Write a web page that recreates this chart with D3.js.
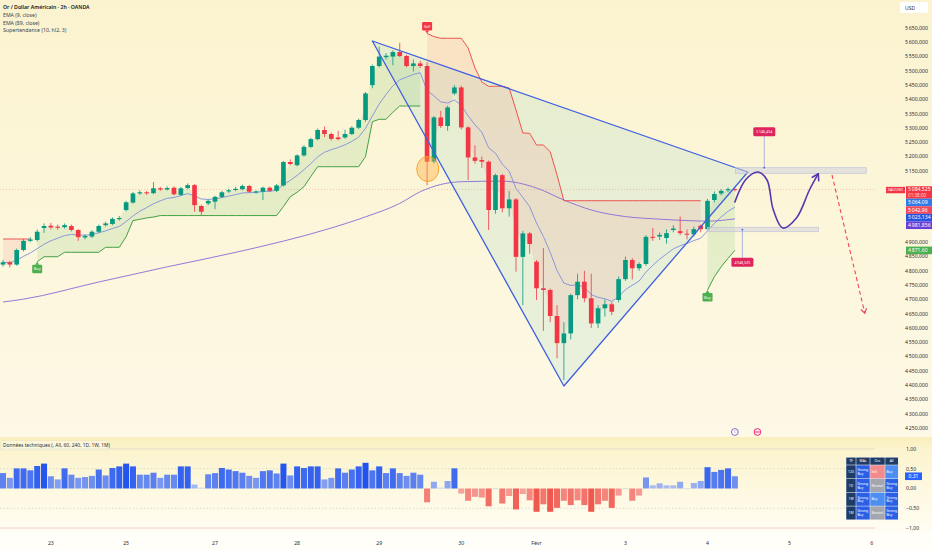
<!DOCTYPE html>
<html>
<head>
<meta charset="utf-8">
<script src="https://cdn.jsdelivr.net/npm/d3@7"></script>
<style>
body{margin:0;background:#fffef8;}
svg{display:block;font-family:"Noto Sans",sans-serif;}
</style>
</head>
<body>
<svg id="chart" width="932" height="550"></svg>
<script>
// ---------------------------------------------- DATA ---------------------------------------------------
var DAY_LABELS = ["23","25","27","28","29","30","Févr","3","4","5","6"];
var DAY_INDEX = [7,18,31,43,55,67,78,91,103,115,127];

var OPEN = [4822,4830,4822,4873,4905,4908,4950,4958,4955,4953,4957,4943,4917,4920,4937,4960,4964,4981,5013,5039,
	5071,5075,5072,5089,5085,5091,5066,5090,5100,5027,5036,5042,5059,5078,5083,5086,5097,5077,5077,5091,
	5080,5099,5181,5170,5204,5234,5261,5293,5279,5267,5267,5279,5301,5328,5450,5517,5548,5550,5566,5552,
	5517,5526,5517,5182,5337,5307,5421,5442,5302,5197,5188,5182,5013,5135,5019,5050,4849,4931,4832,4739,
	4733,4642,4547,4581,4715,4762,4704,4616,4669,4683,4698,4771,4838,4809,4824,4919,4920,4915,4943,4939,
	4930,4928,4958,4946,5048,5071,5082,5086];
var HIGH = [4838,4835,4878,4912,4918,4945,4966,4968,4962,4966,4962,4946,4928,4942,4962,4972,4987,4992,5045,5076,
	5082,5080,5111,5094,5096,5096,5094,5106,5104,5032,5050,5063,5080,5088,5094,5102,5101,5082,5095,5095,
	5104,5185,5190,5208,5240,5266,5298,5305,5284,5290,5294,5306,5333,5426,5522,5585,5562,5572,5598,5556,
	5540,5535,5530,5342,5360,5378,5450,5448,5306,5240,5200,5186,5140,5140,5080,5055,4940,4936,4838,4880,
	4738,4680,4620,4720,4790,4800,4790,4680,4700,4690,4780,4850,4845,4830,4925,4950,4935,4945,4960,4990,
	4945,4955,4962,5052,5078,5086,5092,5092];
var LOW = [4815,4812,4818,4868,4900,4903,4933,4945,4944,4948,4938,4905,4910,4915,4932,4955,4960,4976,5008,5035,
	5066,5066,5068,5080,5081,5064,5062,5086,5007,4994,5030,5016,5055,5073,5079,5082,5073,5070,5048,5076,
	5076,5095,5170,5166,5200,5230,5257,5268,5256,5257,5262,5275,5296,5322,5439,5512,5540,5520,5548,5512,
	5498,5510,5100,5175,5300,5290,5415,5295,5118,5175,5160,4943,5000,5005,4990,4797,4680,4860,4698,4590,
	4620,4494,4418,4560,4700,4690,4600,4600,4640,4645,4690,4765,4770,4800,4818,4905,4908,4895,4935,4925,
	4910,4920,4935,4940,5040,5065,5075,5078];
var CLOSE = [4830,4822,4873,4905,4910,4937,4957,4952,4951,4960,4943,4918,4922,4937,4957,4966,4982,4985,5040,5071,
	5075,5072,5089,5085,5090,5068,5089,5100,5030,5007,5045,5059,5075,5082,5087,5097,5077,5078,5091,5080,
	5099,5181,5174,5204,5234,5261,5293,5279,5262,5261,5279,5301,5328,5421,5517,5550,5553,5566,5552,5517,
	5526,5517,5182,5337,5307,5372,5442,5302,5197,5185,5182,5013,5135,5019,5050,4849,4931,4894,4739,4733,
	4642,4547,4581,4715,4762,4704,4616,4669,4683,4657,4771,4838,4809,4824,4919,4917,4926,4932,4948,4932,
	4928,4946,4946,5045,5069,5080,5086,5084.525];

// EMA 89 at a few candles [index, value]
var EMA89_POINTS = [[0,4691],[3,4701],[14,4761],[24,4814],[35,4870],[47,4943],[53,4989],[58,5036],[61,5077],
	[67,5112],[73,5114],[78,5090],[82,5048],[86,5013],[91,4990],[96,4981],[100,4976],[103,4974],[107,4982]];

// supertrend (10, hl2, 3): green = up line, red = down line
var ST_UP = [null,null,null,null,null,4832,4849.5,4849.5,4849.5,4865,4865,4865,4865,4865,4865,4882.5,4882.5,4882.5,4919.5,4976,
	4980.5,4985,4988.5,4993.5,4993.5,4993.5,4993.5,4993.5,4993.5,4993.5,4993.5,4993.5,4993.5,4993.5,4993.5,4993.5,4993.5,4993.5,4993.5,4993.5,
	4993.5,5025,5059.5,5075,5094.5,5130,5164.5,5164.5,5164.5,5164.5,5164.5,5164.5,5164.5,5200,5322,5330.5,5330.5,5355,5377,5377,
	5377,5377,null,null,null,null,null,null,null,null,null,null,null,null,null,null,null,null,null,null,
	null,null,null,null,null,null,null,null,null,null,null,null,null,null,null,null,null,null,null,null,
	null,null,null,4733,4779.5,4814.5,4844,4871.6];
var ST_DOWN = [4911.5,4911.5,4911.5,4911.5,4911.5,null,null,null,null,null,null,null,null,null,null,null,null,null,null,null,
	null,null,null,null,null,null,null,null,null,null,null,null,null,null,null,null,null,null,null,null,
	null,null,null,null,null,null,null,null,null,null,null,null,null,null,null,null,null,null,null,null,
	null,null,5631,5620,5614,5614,5614,5614,5580,5510,5461,5446,5446,5446,5440,5363,5282.5,5281.5,5240.5,5240.5,
	5217,5135.5,5045.5,5045.5,5045.5,5045.5,5045.5,5045.5,5045.5,5045.5,5045.5,5045.5,5045.5,5045.5,5045.5,5045.5,5045.5,5045.5,5045.5,5045.5,
	5045.5,5045.5,5045.5,null,null,null,null,null];
var BUY_SIGNALS = [5,103];
var SELL_SIGNALS = [62];

// technical ratings histogram
var RATINGS = [0.39,0.27,0.51,0.51,0.46,0.57,0.63,0.31,0.23,0.51,
	0.35,0.27,0.29,0.32,0.48,0.33,0.52,0.56,0.63,0.56,
	0.35,0.35,0.40,0.27,0.35,0.35,0.56,0.56,0.10,0.02,
	0.36,0.39,0.52,0.48,0.44,0.40,0.32,0.27,0.44,0.46,
	0.38,0.63,0.33,0.56,0.52,0.56,0.56,0.23,0.27,0.51,
	0.40,0.48,0.56,0.65,0.46,0.56,0.39,0.51,0.39,0.32,
	0.40,0.35,-0.35,0.17,0.02,0.19,0.51,-0.13,-0.31,-0.21,
	-0.23,-0.45,0,-0.38,-0.19,-0.53,-0.14,-0.30,-0.59,-0.40,
	-0.59,-0.49,-0.31,-0.42,-0.30,-0.42,-0.59,-0.40,-0.31,-0.49,
	-0.18,0,-0.31,-0.18,0.28,0.08,0.13,0.08,0.08,0.17,
	0,0.14,0.19,0.54,0.42,0.47,0.51,0.31];
var RATING_TICKS = [1,0.5,0,-0.5,-1];

var TABLE_HEAD = ["TF","MAs","Osc","All"];
var TABLE_ROWS = ["120","1D","1W","1M"];
var TABLE_VALUES = [["Strong Buy","Sell","Buy"],["Strong Buy","Neutral","Strong Buy"],["Strong Buy","Buy","Strong Buy"],["Strong Buy","Neutral","Strong Buy"]];

// price scale
var PRICE_TICKS = d3.range(4250,5651,50);
var AXIS_TAGS = [5084.525,5064.09,5042.96,5023.134,4981.856,4871.60];
var AXIS_TAG_DECIMALS = [3,2,2,3,3,2];
var COUNTDOWN = "01:38:00";

// drawings, in [candle index, price]
var TRIANGLE = [[54.0,5604.5],[82.0,4397],[108.9,5146]];
var ZONE_HIGH = [[107.1,5161],[126.2,5141.5]];
var ZONE_LOW = [[103.0,4952.5],[119.2,4937]];
var PRICE_NOTES = [[111.3,5146.454,5161],[108.1,4946.025,4944.5]];
var WAVE_PATH = [[107.0,5041],[108.6,5120],[110.4,5146],[111.7,5118],[112.6,5015],[114.0,4950],[116.0,4985],[117.9,5083],[119.2,5140]];
var DROP_PATH = [[121.2,5135.5],[126.0,4651.5]];
var CIRCLE_MARK = [62.1,5156.5];
var EVENT_IDX = [107,110.3];

// ---------------------------------------------- SETUP ---------------------------------------------------
var svg = d3.select("#chart");
var PLOT_RIGHT = 875;
var MAIN_BOTTOM = 437;

var x = d3.scaleLinear().domain([0,100]).range([3,687]);
var STEP = x(1)-x(0);
var y = d3.scaleLinear().domain([4250,5650]).range([428,28]);
var yR = d3.scaleLinear().domain([-1,1]).range([528,449]);

var fr = d3.formatLocale({decimal:",",thousands:"\u202f",grouping:[3],currency:["",""]});
function _fmt(v,dec){return fr.format(",."+dec+"f")(v);}

var COLOR_UP = "#089981";
var COLOR_DOWN = "#f23645";
var AXIS_TEXT = "#2a2e39";

var defs = svg.append("defs");
_gradient(defs,"bgMain",[["0%","#fbf3cf"],["55%","#fcf6db"],["100%","#fdf9e6"]]);
_gradient(defs,"bgPane",[["0%","#f9eebb"],["14%","#fcf4cf"],["100%","#fffdf3"]]);
defs.append("clipPath").attr("id","plotClip")
	.append("rect").attr("x",0).attr("y",0).attr("width",PLOT_RIGHT).attr("height",MAIN_BOTTOM);

function _gradient(d,id,stops){
	var g = d.append("linearGradient").attr("id",id).attr("x1",0).attr("y1",0).attr("x2",0).attr("y2",1);
	stops.forEach(function(s){g.append("stop").attr("offset",s[0]).attr("stop-color",s[1]);});
}

// backgrounds
svg.append("rect").attr("x",0).attr("y",0).attr("width",932).attr("height",MAIN_BOTTOM).style("fill","url(#bgMain)");
svg.append("rect").attr("x",0).attr("y",MAIN_BOTTOM).attr("width",932).attr("height",96).style("fill","url(#bgPane)");
svg.append("rect").attr("x",0).attr("y",533).attr("width",932).attr("height",17).style("fill","#fffef8");

var candles = OPEN.map(function(o,i){
	return {i:i,o:o,h:HIGH[i],l:LOW[i],c:CLOSE[i],up:ST_UP[i],dn:ST_DOWN[i]};
});

var plot = svg.append("g").attr("clip-path","url(#plotClip)");

// ---------------------------------------------- MAIN PANE ---------------------------------------------------
drawMain();
drawDrawings();
drawPriceAxis();
drawRatingsPane();
drawTimeAxis();
drawLegend();

function _ema(values,period){
	var k = 2/(period+1);
	var out = [];
	var prev = values[0];
	values.forEach(function(v,i){
		if (i>0) prev = v*k+prev*(1-k);
		out.push(prev);
	});
	return out;
}

function drawMain(){
	// last price line
	plot.append("line")
		.attr("x1",0).attr("x2",PLOT_RIGHT)
		.attr("y1",y(CLOSE[CLOSE.length-1])).attr("y2",y(CLOSE[CLOSE.length-1]))
		.style("stroke",COLOR_DOWN).style("stroke-opacity",0.35)
		.style("stroke-width",0.8).style("stroke-dasharray","1,2");

	// triangle fill (under everything)
	plot.append("path")
		.attr("d",d3.line().x(function(d){return x(d[0]);}).y(function(d){return y(d[1]);})(TRIANGLE)+"Z")
		.style("fill","rgba(0,170,165,0.08)");

	// supertrend fills between line and body middle
	var _mid = function(d){return y((d.o+d.c)/2);};
	plot.append("path")
		.attr("d",d3.area().defined(function(d){return d.up!=null;})
			.x(function(d){return x(d.i);}).y0(function(d){return y(d.up);}).y1(_mid)(candles))
		.style("fill","rgba(76,175,80,0.13)");
	plot.append("path")
		.attr("d",d3.area().defined(function(d){return d.dn!=null;})
			.x(function(d){return x(d.i);}).y0(function(d){return y(d.dn);}).y1(_mid)(candles))
		.style("fill","rgba(242,54,69,0.09)");

	// EMA lines
	var ema9 = _ema(CLOSE,9);
	plot.append("path")
		.attr("d",d3.line().x(function(d,i){return x(i);}).y(function(d){return y(d);})(ema9))
		.style("fill","none").style("stroke","#7f8fdc").style("stroke-width",0.9);
	plot.append("path")
		.attr("d",d3.line().curve(d3.curveMonotoneX).x(function(d){return x(d[0]);}).y(function(d){return y(d[1]);})(EMA89_POINTS))
		.style("fill","none").style("stroke","#8a6ad6").style("stroke-width",0.9);

	// supertrend lines
	plot.append("path")
		.attr("d",d3.line().defined(function(d){return d.up!=null;}).x(function(d){return x(d.i);}).y(function(d){return y(d.up);})(candles))
		.style("fill","none").style("stroke","#43a047").style("stroke-width",1);
	plot.append("path")
		.attr("d",d3.line().defined(function(d){return d.dn!=null;}).x(function(d){return x(d.i);}).y(function(d){return y(d.dn);})(candles))
		.style("fill","none").style("stroke","#ef5350").style("stroke-width",1);

	// candles
	var _bw = STEP*0.68;
	var g = plot.append("g").attr("id","candles");
	g.selectAll("g").data(candles).enter().append("g")
		.each(function(d){
			var _col = d.c>=d.o ? COLOR_UP : COLOR_DOWN;
			var _sel = d3.select(this);
			_sel.append("line")
				.attr("x1",x(d.i)).attr("x2",x(d.i))
				.attr("y1",y(d.h)).attr("y2",y(d.l))
				.style("stroke",_col).style("stroke-width",0.8);
			var _top = y(Math.max(d.o,d.c));
			var _h = Math.max(1,Math.abs(y(d.o)-y(d.c)));
			_sel.append("rect")
				.attr("x",x(d.i)-_bw/2).attr("y",_top)
				.attr("width",_bw).attr("height",_h)
				.style("fill",_col);
		});

	// buy / sell tags
	BUY_SIGNALS.forEach(function(i){_drawSignal(x(i),y(ST_UP[i]),"Buy","#4caf50",1);});
	SELL_SIGNALS.forEach(function(i){_drawSignal(x(i),y(ST_DOWN[i]),"Sell","#f23645",-1);});
}

function _drawSignal(cx,cy,label,color,dir){
	var _w = 10, _h = 8.5, _gap = 3;
	var _y = dir>0 ? cy+_gap : cy-_gap-_h;
	svg.append("path")
		.attr("d","M"+cx+","+cy+"L"+(cx-2)+","+(dir>0?_y:_y+_h)+"L"+(cx+2)+","+(dir>0?_y:_y+_h)+"Z")
		.style("fill",color);
	svg.append("rect").attr("x",cx-_w/2).attr("y",_y).attr("width",_w).attr("height",_h).attr("rx",1.2)
		.style("fill",color);
	svg.append("text").text(label)
		.attr("x",cx).attr("y",_y+_h/2+1.4)
		.style("font-size","3.9px").style("fill","#fff").style("text-anchor","middle");
}

// ---------------------------------------------- DRAWINGS ---------------------------------------------------
function drawDrawings(){
	var _line = d3.line().x(function(d){return x(d[0]);}).y(function(d){return y(d[1]);});

	// orange circle at the sell candle
	plot.append("ellipse")
		.attr("cx",x(CIRCLE_MARK[0])).attr("cy",y(CIRCLE_MARK[1]))
		.attr("rx",11).attr("ry",12.5)
		.style("fill","rgba(255,176,64,0.42)").style("stroke","#f5a020").style("stroke-width",0.9);

	// triangle
	plot.append("path")
		.attr("d",_line(TRIANGLE)+"Z")
		.style("fill","none").style("stroke","#3f5fe0").style("stroke-width",1.3).style("stroke-linejoin","round");

	// zones
	[ZONE_HIGH,ZONE_LOW].forEach(function(z){
		plot.append("rect")
			.attr("x",x(z[0][0])).attr("y",y(z[0][1]))
			.attr("width",x(z[1][0])-x(z[0][0])).attr("height",y(z[1][1])-y(z[0][1]))
			.style("fill","rgba(205,207,222,0.5)").style("stroke","#c3c4d8").style("stroke-width",0.7);
	});

	// price notes with connector
	PRICE_NOTES.forEach(function(n,k){
		var _x = x(n[0]);
		var _yz = y(n[2]);
		var _yl = k==0 ? y(n[1])-40 : y(n[1])+33;
		plot.append("line").attr("x1",_x).attr("x2",_x).attr("y1",_yz).attr("y2",_yl)
			.style("stroke","#8c9be0").style("stroke-width",0.7);
		plot.append("circle").attr("cx",_x).attr("cy",_yz).attr("r",0.9).style("fill","#4f63d8");
		var _t = _fmt(n[1],3);
		plot.append("rect").attr("x",_x-11).attr("y",_yl-4.5).attr("width",22).attr("height",9).attr("rx",1.5)
			.style("fill","#e0245e");
		plot.append("text").text(_t).attr("x",_x).attr("y",_yl+1.4)
			.style("font-size","3.6px").style("fill","#fff").style("text-anchor","middle");
	});

	// projected wave
	var _wave = d3.line().curve(d3.curveCatmullRom.alpha(0.5)).x(function(d){return x(d[0]);}).y(function(d){return y(d[1]);});
	plot.append("path").attr("d",_wave(WAVE_PATH))
		.style("fill","none").style("stroke","#5a35b0").style("stroke-width",1.6).style("stroke-linecap","round");
	_arrowHead(WAVE_PATH[WAVE_PATH.length-2],WAVE_PATH[WAVE_PATH.length-1],"#5a35b0",1.6,7);

	// dashed drop
	plot.append("path").attr("d",_line(DROP_PATH))
		.style("fill","none").style("stroke","#ef4458").style("stroke-width",1.1).style("stroke-dasharray","4,3");
	_arrowHead(DROP_PATH[0],DROP_PATH[1],"#ef4458",1.1,5);

	// event markers
	svg.append("circle").attr("cx",x(EVENT_IDX[0])).attr("cy",432).attr("r",3.4)
		.style("fill","#fff").style("stroke","#7e57c2").style("stroke-width",0.9);
	svg.append("text").text("€").attr("x",x(EVENT_IDX[0])).attr("y",433.4)
		.style("font-size","4px").style("fill","#7e57c2").style("text-anchor","middle");
	svg.append("circle").attr("cx",x(EVENT_IDX[1])).attr("cy",432).attr("r",3.4)
		.style("fill","#fde3ec").style("stroke","#e91e63").style("stroke-width",0.9);
	svg.append("line").attr("x1",x(EVENT_IDX[1])-2.4).attr("x2",x(EVENT_IDX[1])+2.4).attr("y1",432).attr("y2",432)
		.style("stroke","#e91e63").style("stroke-width",0.8);
}

function _arrowHead(p0,p1,color,width,len){
	var _x0 = x(p0[0]), _y0 = y(p0[1]), _x1 = x(p1[0]), _y1 = y(p1[1]);
	var _a = Math.atan2(_y1-_y0,_x1-_x0);
	var _pts = [-0.55,0.55].map(function(s){
		return [_x1-len*Math.cos(_a+s),_y1-len*Math.sin(_a+s)];
	});
	plot.append("path")
		.attr("d","M"+_pts[0]+"L"+_x1+","+_y1+"L"+_pts[1])
		.style("fill","none").style("stroke",color).style("stroke-width",width)
		.style("stroke-linecap","round").style("stroke-linejoin","round");
}

// ---------------------------------------------- PRICE AXIS ---------------------------------------------------
function drawPriceAxis(){
	var g = svg.append("g").attr("id","priceAxis");

	// stacked value tags: work out their boxes first
	var _tags = [];
	var _prevBottom = -100;
	AXIS_TAGS.forEach(function(v,k){
		var _h = k==0 ? 12.4 : 7.6;
		var _c = Math.max(y(v),_prevBottom+3.8);
		var _top = k==0 ? _c-3.3 : _c-3.8;
		_tags.push({v:v,k:k,c:_c,top:_top,h:_h});
		_prevBottom = _top+_h;
	});

	// tick labels hidden behind the tags are left out
	var _ticks = PRICE_TICKS.filter(function(t){
		var _ty = y(t);
		return !_tags.some(function(s){return _ty>s.top-1.6 && _ty<s.top+s.h+1.6;});
	});
	g.selectAll("text.tick").data(_ticks).enter().append("text")
		.attr("class","tick")
		.text(function(d){return _fmt(d,3);})
		.attr("x",905).attr("y",function(d){return y(d)+1.8;})
		.style("font-size","5.2px").style("fill",AXIS_TEXT);

	// USD box
	g.append("rect").attr("x",900).attr("y",2).attr("width",28).attr("height",11).attr("rx",1.5)
		.style("fill","#ffffff");
	g.append("text").text("USD").attr("x",905).attr("y",9.5).style("font-size","5px").style("fill",AXIS_TEXT);

	var _colors = ["#f23645","#2f7be8","#f0495c","#2453e0","#6a3ed8","#4caf50"];
	_tags.forEach(function(s){
		g.append("rect").attr("x",906).attr("y",s.top).attr("width",26).attr("height",s.h)
			.style("fill",_colors[s.k]);
		g.append("text").text(_fmt(s.v,AXIS_TAG_DECIMALS[s.k]))
			.attr("x",908).attr("y",s.c+1.8)
			.style("font-size","5.1px").style("fill","#fff");
		if (s.k==0){
			g.append("text").text(COUNTDOWN).attr("x",908).attr("y",s.c+7.3)
				.style("font-size","4.6px").style("fill","#ffd9dd");
			g.append("rect").attr("x",886).attr("y",s.top+0.6).attr("width",19).attr("height",6.4)
				.style("fill",_colors[0]);
			g.append("text").text("XAUUSD").attr("x",895.5).attr("y",s.c+1.5)
				.style("font-size","3.9px").style("fill","#fff").style("text-anchor","middle");
		}
	});
}

// ---------------------------------------------- RATINGS PANE ---------------------------------------------------
function drawRatingsPane(){
	var g = svg.append("g").attr("id","ratings");

	g.append("line").attr("x1",0).attr("x2",PLOT_RIGHT).attr("y1",yR(1)).attr("y2",yR(1))
		.style("stroke","#d9d6c6").style("stroke-width",0.7);
	[0.5,-0.5].forEach(function(v){
		g.append("line").attr("x1",0).attr("x2",PLOT_RIGHT).attr("y1",yR(v)).attr("y2",yR(v))
			.style("stroke","#c9c7bd").style("stroke-width",0.6).style("stroke-dasharray","1.5,2");
	});
	g.append("line").attr("x1",0).attr("x2",PLOT_RIGHT).attr("y1",yR(-1)).attr("y2",yR(-1))
		.style("stroke","#f4c4c4").style("stroke-width",0.8);

	var _color = d3.scaleLinear()
		.domain([-0.6,-0.12,0,0.1,0.65])
		.range(["#f0564c","#f7a49d","#c6c9d2","#a2b6f2","#1f52ee"])
		.clamp(true);

	g.selectAll("rect.bar").data(RATINGS).enter().append("rect")
		.attr("class","bar")
		.attr("x",function(d,i){return x(i)-(STEP-0.8)/2;})
		.attr("y",function(d){return Math.min(yR(d),yR(0));})
		.attr("width",STEP-0.8)
		.attr("height",function(d){return Math.max(0.6,Math.abs(yR(d)-yR(0)));})
		.style("fill",function(d){return _color(d);});

	// pane title
	var _title = "Données techniques (, All, 60, 240, 1D, 1W, 1M)";
	g.append("rect").attr("x",1).attr("y",440.5).attr("width",106).attr("height",9.5).attr("rx",1)
		.style("fill","rgba(255,255,255,0.35)").style("stroke","#e6dfb8").style("stroke-width",0.4);
	g.append("text").text(_title).attr("x",3).attr("y",447.2)
		.style("font-size","4.9px").style("fill",AXIS_TEXT);

	// right axis
	g.selectAll("text.rtick").data(RATING_TICKS).enter().append("text")
		.attr("class","rtick")
		.text(function(d){return _fmt(d,2);})
		.attr("x",906).attr("y",function(d){return yR(d)+1.8;})
		.style("font-size","5.2px").style("fill",AXIS_TEXT);
	var _last = RATINGS[RATINGS.length-1];
	g.append("rect").attr("x",905).attr("y",yR(_last)-3.8).attr("width",17).attr("height",7.6)
		.style("fill","#2962ff");
	g.append("text").text(_fmt(_last,2)).attr("x",913.5).attr("y",yR(_last)+1.8)
		.style("font-size","5px").style("fill","#fff").style("text-anchor","middle");

	_drawTable(g);
}

function _drawTable(svg){
	var _x0 = 846, _y0 = 457.3;
	var _colW = [10,14,15,13.3];
	var _headH = 7.7, _rowH = 13.7;
	var _navy = "#1f3c66";
	var _cellColor = {"Strong Buy":"#2b5fe6","Buy":"#4d8ef3","Sell":"#f28a8e","Neutral":"#a3a6ae"};
	var _colX = [_x0];
	_colW.forEach(function(w,k){_colX.push(_colX[k]+w);});
	var _totalH = _headH+_rowH*TABLE_ROWS.length;

	svg.append("rect").attr("x",_x0).attr("y",_y0).attr("width",_colX[4]-_x0).attr("height",_totalH)
		.style("fill","#dfe4ee");

	TABLE_HEAD.forEach(function(h,c){
		svg.append("rect").attr("x",_colX[c]+0.3).attr("y",_y0+0.3).attr("width",_colW[c]-0.6).attr("height",_headH-0.6)
			.style("fill",_navy);
		svg.append("text").text(h).attr("x",_colX[c]+_colW[c]/2).attr("y",_y0+_headH/2+1.2)
			.style("font-size","3.4px").style("fill","#fff").style("text-anchor","middle");
	});
	TABLE_ROWS.forEach(function(r,k){
		var _ry = _y0+_headH+k*_rowH;
		svg.append("rect").attr("x",_colX[0]+0.3).attr("y",_ry+0.3).attr("width",_colW[0]-0.6).attr("height",_rowH-0.6)
			.style("fill",_navy);
		svg.append("text").text(r).attr("x",_colX[0]+_colW[0]/2).attr("y",_ry+_rowH/2+1.2)
			.style("font-size","3.4px").style("fill","#fff").style("text-anchor","middle");
		TABLE_VALUES[k].forEach(function(v,c){
			var _cx = _colX[c+1];
			svg.append("rect").attr("x",_cx+0.3).attr("y",_ry+0.3).attr("width",_colW[c+1]-0.6).attr("height",_rowH-0.6)
				.style("fill",_cellColor[v]);
			var _words = v.split(" ");
			_words.forEach(function(w,j){
				svg.append("text").text(w)
					.attr("x",_cx+1.4)
					.attr("y",_ry+_rowH/2+1.2+(j-(_words.length-1)/2)*3.8)
					.style("font-size","3.4px").style("fill","#fff");
			});
		});
	});
}

// ---------------------------------------------- TIME AXIS + LEGEND ---------------------------------------------------
function drawTimeAxis(){
	svg.append("g").attr("id","timeAxis")
		.selectAll("text").data(DAY_INDEX).enter().append("text")
		.text(function(d,k){return DAY_LABELS[k];})
		.attr("x",function(d){return x(d);})
		.attr("y",545)
		.style("font-size","5.2px").style("fill",AXIS_TEXT).style("text-anchor","middle");
}

function drawLegend(){
	var _lines = ["Or / Dollar Américain · 2h · OANDA","EMA (9, close)","EMA (89, close)","Supertendance (10, hl2, 3)"];
	var g = svg.append("g").attr("id","legend");
	_lines.forEach(function(t,k){
		g.append("text").text(t)
			.attr("x",3).attr("y",9.2+k*7.7)
			.style("font-size","5.2px")
			.style("font-weight",k==0?"600":"normal")
			.style("fill",k==0?"#131722":"#3b3f4a");
	});
}
</script>
</body>
</html>
